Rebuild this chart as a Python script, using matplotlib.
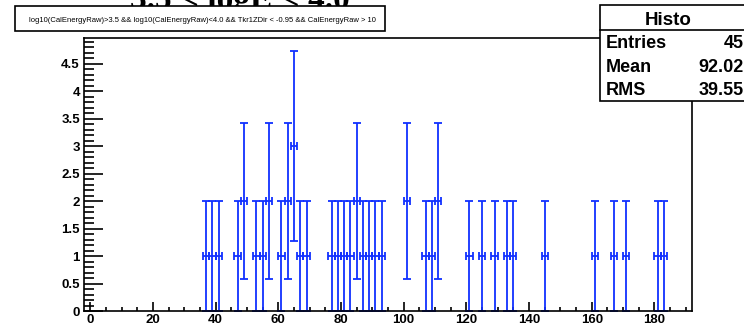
import numpy as np
import matplotlib.pyplot as plt
from matplotlib.patches import Rectangle
from matplotlib.ticker import MultipleLocator, FormatStrFormatter

# filled bins of the histogram (bin width 2, centres on odd values)
bin_centers = [37, 39, 41, 47, 49, 53, 55, 57, 61, 63, 65, 67, 69,
               77, 79, 81, 83, 85, 87, 89, 91, 93, 101, 107, 109, 111,
               121, 125, 129, 133, 135, 145, 161, 167, 171, 181, 183]
bin_counts = [1, 1, 1, 1, 2, 1, 1, 2, 1, 2, 3, 1, 1,
              1, 1, 1, 1, 2, 1, 1, 1, 1, 2, 1, 1, 2,
              1, 1, 1, 1, 1, 1, 1, 1, 1, 1, 1]
bin_width = 2.0

stat_names = ["Entries", "Mean", "RMS"]
stat_values = ["45", "92.02", "39.55"]

cut_text = ("log10(CalEnergyRaw)>3.5 && log10(CalEnergyRaw)<4.0 && "
            "Tkr1ZDir < -0.95 && CalEnergyRaw > 10")
big_title = "3.5 < logE < 4.0"

W, H = 744, 327
sans = ["Liberation Sans", "DejaVu Sans"]
serif = ["Liberation Serif", "DejaVu Serif"]


def fx(px):
    return px / W


def fy(py):
    return 1 - py / H


fig = plt.figure(figsize=(W / 100, H / 100), dpi=100)
fig.patch.set_facecolor("white")

ax = fig.add_axes([fx(84), fy(311), fx(692 - 84), (311 - 38) / H])

counts = np.array(bin_counts, dtype=float)
ax.errorbar(bin_centers, counts, xerr=bin_width / 2, yerr=np.sqrt(counts),
            fmt="none", ecolor="#1030ff", elinewidth=1.3,
            capsize=3, capthick=1.3)

ax.set_xlim(-2, 192)
ax.set_ylim(0, 4.97)

ax.xaxis.set_major_locator(MultipleLocator(20))
ax.xaxis.set_minor_locator(MultipleLocator(5))
ax.yaxis.set_major_locator(MultipleLocator(0.5))
ax.yaxis.set_minor_locator(MultipleLocator(0.1))
ax.yaxis.set_major_formatter(FormatStrFormatter("%g"))

ax.xaxis.set_tick_params(which="major", direction="in", length=6.5, width=1.2, pad=2.5)
ax.xaxis.set_tick_params(which="minor", direction="in", length=3.2, width=1.2)
ax.yaxis.set_tick_params(which="major", direction="in", length=13.5, width=1.2, pad=3)
ax.yaxis.set_tick_params(which="minor", direction="in", length=7, width=1.2)
ax.tick_params(top=False, right=False, which="both")

for lab in ax.get_xticklabels() + ax.get_yticklabels():
    lab.set_family(sans)
    lab.set_fontweight("bold")
    lab.set_fontsize(9.5)

for sp in ax.spines.values():
    sp.set_linewidth(1.2)

# big title, mostly off the top of the canvas
fig.text(fx(130), fy(9.5), big_title, family=serif, fontweight="bold",
         fontsize=24, ha="left", va="baseline", zorder=1)

# cut string box
fig.patches.append(Rectangle((fx(15), fy(31)), fx(385 - 15), (31 - 6) / H,
                             transform=fig.transFigure, facecolor="white",
                             edgecolor="black", linewidth=1.2, zorder=2))
fig.text(fx(29), fy(21.5), cut_text, family=sans, fontsize=5.5,
         ha="left", va="baseline", zorder=3)

# statistics box
fig.patches.append(Rectangle((fx(600), fy(101)), fx(760 - 600), (101 - 5) / H,
                             transform=fig.transFigure, facecolor="white",
                             edgecolor="black", linewidth=1.2, zorder=4))
fig.add_artist(plt.Line2D([fx(600), fx(760)], [fy(30), fy(30)],
                          transform=fig.transFigure, color="black",
                          linewidth=1.2, zorder=5))
fig.text(fx(668), fy(25), "Histo", family=sans, fontweight="bold",
         fontsize=13.5, ha="center", va="baseline", zorder=6)
for i, (name, val) in enumerate(zip(stat_names, stat_values)):
    y = fy(48 + 23.5 * i)
    fig.text(fx(606), y, name, family=sans, fontweight="bold",
             fontsize=13, ha="left", va="baseline", zorder=6)
    fig.text(fx(744), y, val, family=sans, fontweight="bold",
             fontsize=13, ha="right", va="baseline", zorder=6)

fig.savefig("out.png", dpi=100)
